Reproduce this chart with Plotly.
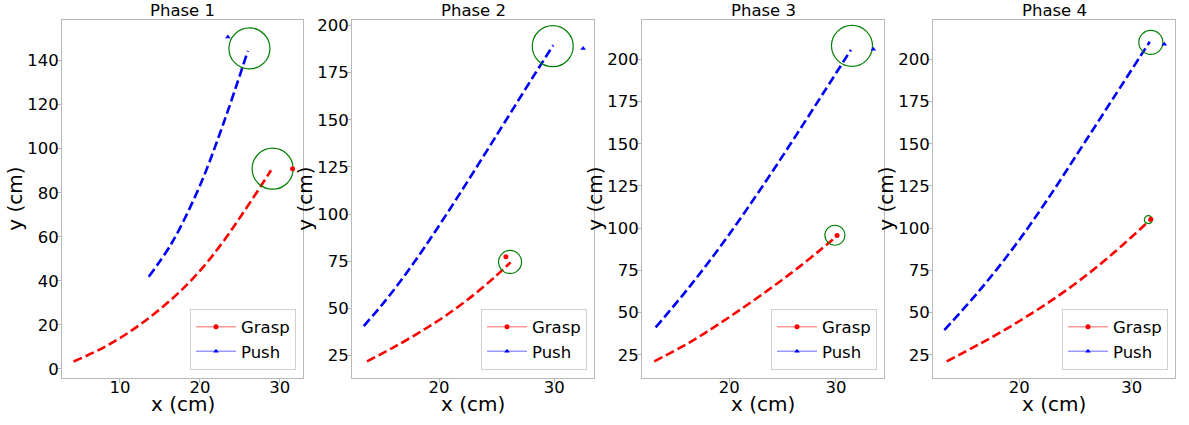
import plotly.graph_objects as go

W, H = 1189, 425

phases = ["Phase 1", "Phase 2", "Phase 3", "Phase 4"]

# Planned grasp trajectories (cm)
grasp_x = [
    [4.2, 8.2, 12.3, 16.5, 19.8, 22.75, 25.25, 27.75, 28.9],
    [13.75, 15.9, 18.2, 20.5, 22.9, 24.9, 26.2],
    [12.97, 16.3, 19.4, 22.6, 25.7, 28.5, 30.1],
    [13.54, 16.5, 19.47, 22.4, 25.4, 28.4, 31.57],
]
grasp_y = [
    [3.4, 10.2, 19.6, 31.8, 43.7, 57.0, 70.0, 83.7, 90.2],
    [21.9, 28.8, 36.9, 45.8, 56.6, 67.0, 74.4],
    [21.1, 32.4, 44.8, 58.6, 72.9, 86.9, 95.5],
    [21.1, 31.5, 42.8, 55.1, 69.2, 85.4, 104.4],
]

# Planned push trajectories (cm)
push_x = [
    [13.6, 16.5, 20.0, 23.0, 26.0],
    [13.47, 15.35, 17.1, 18.8, 20.5, 22.3, 24.0, 25.75, 28.2, 29.9],
    [13.1, 16.3, 19.4, 22.6, 25.7, 28.8, 31.4],
    [13.33, 16.5, 19.5, 22.4, 25.4, 28.4, 31.6],
]
push_y = [
    [41.9, 57.3, 83.2, 112.0, 144.4],
    [40.6, 54.1, 68.1, 82.9, 98.5, 115.6, 132.1, 149.2, 173.2, 189.5],
    [41.2, 65.5, 91.2, 120.0, 149.5, 179.9, 205.6],
    [39.6, 63.4, 88.6, 115.9, 146.5, 177.4, 210.4],
]

# Measured object positions
grasp_obj_x = [31.6, 25.8, 30.1, 31.7]
grasp_obj_y = [90.9, 77.4, 95.6, 105.2]
push_obj_x = [23.5, 32.5, 33.5, 32.9]
push_obj_y = [150.7, 187.8, 205.9, 208.9]

# Predicted end points (circle centres)
grasp_end_x = [29.1, 26.16, 29.9, 31.48]
grasp_end_y = [90.9, 74.6, 95.8, 105.0]
push_end_x = [26.2, 29.86, 31.5, 31.7]
push_end_y = [145.5, 189.0, 208.0, 210.0]

# Axis ranges and ticks
x_ranges = [[2.75, 32.9], [12.45, 33.44], [11.82, 34.5], [12.32, 33.85]]
y_ranges = [[-3.9, 158.5], [13.3, 203.0], [11.5, 223.4], [11.5, 223.4]]
x_ticks = [[10, 20, 30], [20, 30], [20, 30], [20, 30]]
y_ticks = [
    [0, 20, 40, 60, 80, 100, 120, 140],
    [25, 50, 75, 100, 125, 150, 175, 200],
    [25, 50, 75, 100, 125, 150, 175, 200],
    [25, 50, 75, 100, 125, 150, 175, 200],
]

# layout geometry (pixels)
ax_left = [62, 352, 642, 933]
ax_right = [303, 594, 884, 1175]
ax_top, ax_bottom = 16, 378
grasp_circle_px = [41, 23, 20, 8]
push_circle_px = [41, 41, 41, 24]

FONT = "DejaVu Sans"
SPINE = "#b8b8b8"

fig = go.Figure()
annotations = []
layout = dict(
    width=W, height=H,
    margin=dict(l=0, r=0, t=0, b=0),
    paper_bgcolor="white", plot_bgcolor="white",
    font=dict(family=FONT, size=16, color="black"),
)

for i in range(4):
    n = "" if i == 0 else str(i + 1)
    xa, ya = "x" + n, "y" + n
    leg = "legend" + n
    x0, x1 = ax_left[i] / W, ax_right[i] / W
    y0, y1 = 1 - ax_bottom / H, 1 - ax_top / H

    layout["xaxis" + n] = dict(
        domain=[x0, x1], anchor=ya, range=x_ranges[i], tickvals=x_ticks[i],
        showgrid=False, zeroline=False, showline=True, mirror=True,
        linecolor=SPINE, linewidth=1, ticks="outside", ticklen=4,
        tickcolor=SPINE, ticklabelstandoff=-9,
        tickfont=dict(size=16.5, family=FONT, color="black"),
    )
    layout["yaxis" + n] = dict(
        domain=[y0, y1], anchor=xa, range=y_ranges[i], tickvals=y_ticks[i],
        showgrid=False, zeroline=False, showline=True, mirror=True,
        linecolor=SPINE, linewidth=1, ticks="outside", ticklen=4,
        tickcolor=SPINE, ticklabelstandoff=-5,
        tickfont=dict(size=16.5, family=FONT, color="black"),
    )
    layout[leg] = dict(
        x=(ax_right[i] - 7) / W, xanchor="right",
        y=1 - (ax_bottom - 8) / H, yanchor="bottom",
        bgcolor="white", bordercolor="#d0d0d0", borderwidth=1,
        font=dict(family=FONT, size=16.5, color="black"),
        itemwidth=40, tracegroupgap=0,
    )

    # trajectories
    fig.add_trace(go.Scatter(
        x=grasp_x[i], y=grasp_y[i], xaxis=xa, yaxis=ya, mode="lines",
        line=dict(color="red", width=2.6, dash="9px,4px", shape="spline"),
        showlegend=False, hoverinfo="skip"))
    fig.add_trace(go.Scatter(
        x=push_x[i], y=push_y[i], xaxis=xa, yaxis=ya, mode="lines",
        line=dict(color="blue", width=2.6, dash="9px,4px", shape="spline"),
        showlegend=False, hoverinfo="skip"))

    # end-point circles
    fig.add_trace(go.Scatter(
        x=[grasp_end_x[i]], y=[grasp_end_y[i]], xaxis=xa, yaxis=ya, mode="markers",
        marker=dict(symbol="circle-open", size=grasp_circle_px[i], color="#008000",
                    line=dict(color="#008000", width=1.2)),
        showlegend=False, cliponaxis=False))
    fig.add_trace(go.Scatter(
        x=[push_end_x[i]], y=[push_end_y[i]], xaxis=xa, yaxis=ya, mode="markers",
        marker=dict(symbol="circle-open", size=push_circle_px[i], color="#008000",
                    line=dict(color="#008000", width=1.2)),
        showlegend=False, cliponaxis=False))

    # object positions
    fig.add_trace(go.Scatter(
        x=[grasp_obj_x[i]], y=[grasp_obj_y[i]], xaxis=xa, yaxis=ya,
        mode="lines+markers", name="Grasp", legend=leg,
        line=dict(color="rgba(255,0,0,0.4)", width=1.5),
        marker=dict(symbol="circle", size=5, color="red"), cliponaxis=False))
    fig.add_trace(go.Scatter(
        x=[push_obj_x[i]], y=[push_obj_y[i]], xaxis=xa, yaxis=ya,
        mode="lines+markers", name="Push", legend=leg,
        line=dict(color="rgba(0,0,255,0.4)", width=1.5),
        marker=dict(symbol="triangle-up", size=5, color="blue"), cliponaxis=False))

    cx = (ax_left[i] + ax_right[i]) / 2 / W
    annotations.append(dict(
        text=phases[i], x=cx, y=1 - 7 / H, xref="paper", yref="paper",
        xanchor="center", yanchor="middle", showarrow=False,
        font=dict(family=FONT, size=16.5, color="black")))
    annotations.append(dict(
        text="x (cm)", x=cx, y=1 - 405 / H, xref="paper", yref="paper",
        xanchor="center", yanchor="middle", showarrow=False,
        font=dict(family=FONT, size=20, color="black")))
    annotations.append(dict(
        text="y (cm)", x=(ax_left[i] - 47) / W, y=1 - 197 / H,
        xref="paper", yref="paper", xanchor="center", yanchor="middle",
        textangle=-90, showarrow=False,
        font=dict(family=FONT, size=20, color="black")))

layout["annotations"] = annotations
fig.update_layout(**layout)
fig.write_html("out.html")
